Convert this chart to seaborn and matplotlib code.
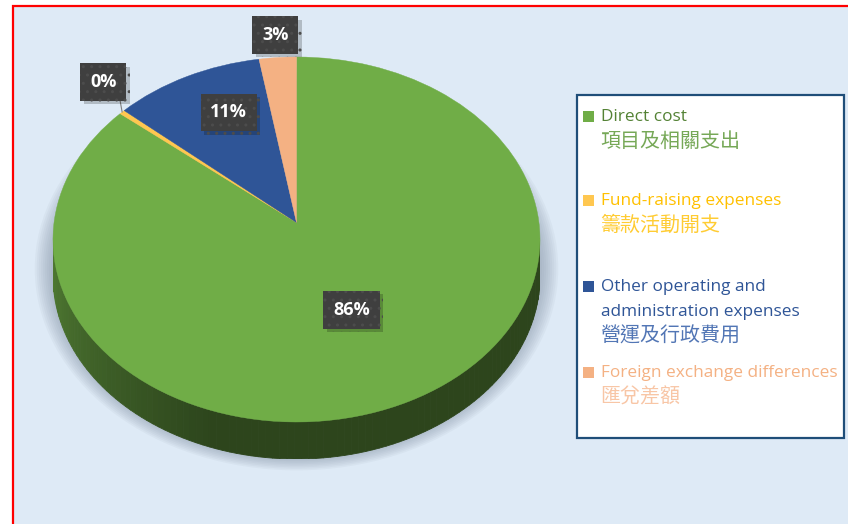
import numpy as np
import matplotlib
import matplotlib.pyplot as plt
import matplotlib.patheffects as pe
import seaborn as sns
from matplotlib.patches import Rectangle, Ellipse
from matplotlib.transforms import Transform

# data
labels_en = ['Direct cost', 'Fund-raising expenses',
             'Other operating and\nadministration expenses',
             'Foreign exchange differences']
labels_zh = ['項目及相關支出', '籌款活動開支', '營運及行政費用', '匯兌差額']
values = [86.0, 0.4, 10.9, 2.7]

pie_colors = ['#70AD47', '#FFC750', '#2F5597', '#F4B183']
text_en_colors = ['#548235', '#FFC000', '#2F5597', '#F4B183']
text_zh_colors = ['#76A857', '#FFCC33', '#5276B5', '#F8C6A6']

sns.set_style('white')
plt.rcParams['font.family'] = ['Open Sans', 'Noto Sans CJK TC', 'DejaVu Sans']

fig = plt.figure(figsize=(8.48, 5.24), dpi=100)

# background + frame, pixel coords
bg = fig.add_axes([0, 0, 1, 1])
bg.set_xlim(0, 848)
bg.set_ylim(524, 0)
bg.axis('off')
bg.add_patch(Rectangle((13, 6), 900, 600, facecolor='#DEEAF6', edgecolor='#FF0000', lw=1.6))
bg.add_patch(Rectangle((577, 95), 267, 343, facecolor='white', edgecolor='#1F4E79', lw=1.6))

# legend
y = 117
gaps = [84, 86, 86, 0]
for i in range(len(values)):
    bg.add_patch(Rectangle((583, y - 6), 11, 11, facecolor=pie_colors[i], edgecolor='none'))
    lines = labels_en[i].split('\n')
    for j, ln in enumerate(lines):
        bg.text(601, y + 25 * j, ln, color=text_en_colors[i], fontsize=12.4, va='center', ha='left')
    bg.text(600, y + 25 * len(lines) - 1, labels_zh[i], color=text_zh_colors[i],
            fontsize=14.4, va='center', ha='left', family=['Noto Sans CJK TC', 'DejaVu Sans'])
    y += gaps[i]


# perspective so the pie apex sits above the middle of the ellipse
class Persp(Transform):
    input_dims = 2
    output_dims = 2

    def __init__(self, k):
        super().__init__()
        self.k = k

    def transform_non_affine(self, xy):
        xy = np.asarray(xy, dtype=float)
        x, yy = xy[:, 0], xy[:, 1]
        d = 1 + self.k * yy
        return np.column_stack([x * np.sqrt(1 - self.k ** 2) / d, (yy + self.k) / d])

    def inverted(self):
        return Persp(-self.k)


persp = Persp(0.093)
depth = 37 / 182.5

pax = fig.add_axes([53 / 848, (524 - 459) / 524, 487 / 848, 402 / 524])
wedges, _ = pax.pie(values, colors=pie_colors, startangle=90, counterclock=False,
                    radius=1, wedgeprops=dict(linewidth=0.3))
for w, c in zip(wedges, pie_colors):
    w.set_edgecolor(c)
    w.set_transform(persp + pax.transData)
    w.set_zorder(3)
pax.set_aspect('auto')
pax.set_xlim(-1, 1)
pax.set_ylim(-1 - depth, 1)

# soft shadow
for s in np.linspace(1.0, 0.0, 10):
    pax.add_patch(Ellipse((0, -0.16), 2.0 + 0.15 * s, 2.06 + 0.15 * s,
                          facecolor='#7d8ca0', edgecolor='none', alpha=0.07,
                          zorder=0, clip_on=False))

# side wall
for w, c in zip(wedges, pie_colors):
    t = np.radians(np.linspace(w.theta1, w.theta2, 200))
    rim = persp.transform(np.column_stack([np.cos(t), np.sin(t)]))
    cc = np.array(matplotlib.colors.to_rgb(c))
    for a in range(len(rim) - 1):
        p, q = rim[a], rim[a + 1]
        if (p[1] + q[1]) / 2 > 0:
            continue
        ang = np.degrees(np.arctan2((p[1] + q[1]) / 2, (p[0] + q[0]) / 2)) % 360
        f = 0.40 + 0.32 * np.clip((250 - ang) / 70, 0, 1)
        col = cc * f
        pax.fill([p[0], q[0], q[0], p[0]], [p[1], q[1], q[1] - depth, p[1] - depth],
                 color=col, lw=0.6, ec=col, zorder=2)

# data labels
label_r = [0.51, 1.2, 0.71, 1.15]
label_shift = [0, -4, -4.7, 0]
for i, w in enumerate(wedges):
    a = np.radians((w.theta1 + w.theta2) / 2 + label_shift[i])
    pos = persp.transform([[label_r[i] * np.cos(a), label_r[i] * np.sin(a)]])[0]
    txt = f'{values[i]:.0f}%'
    if label_r[i] > 1 and values[i] < 1:
        am = np.radians((w.theta1 + w.theta2) / 2)
        rim = persp.transform([[np.cos(am), np.sin(am)]])[0]
        pax.plot([rim[0], rim[0] - 0.01], [rim[1], rim[1] + 0.075], color='#7f7f7f',
                 lw=0.8, zorder=4, clip_on=False)
    t = pax.text(pos[0], pos[1], txt, fontsize=13, fontweight='bold', color='white',
                 ha='center', va='center', zorder=5,
                 bbox=dict(boxstyle='square,pad=0.54', facecolor='#3f3f3f', edgecolor='#4c4c4c',
                           hatch='..', lw=0))
    t.get_bbox_patch().set_path_effects([
        pe.SimplePatchShadow(offset=(2.5, -2.5), shadow_rgbFace='black', alpha=0.2),
        pe.Normal()])

plt.savefig('out.png', dpi=100)
